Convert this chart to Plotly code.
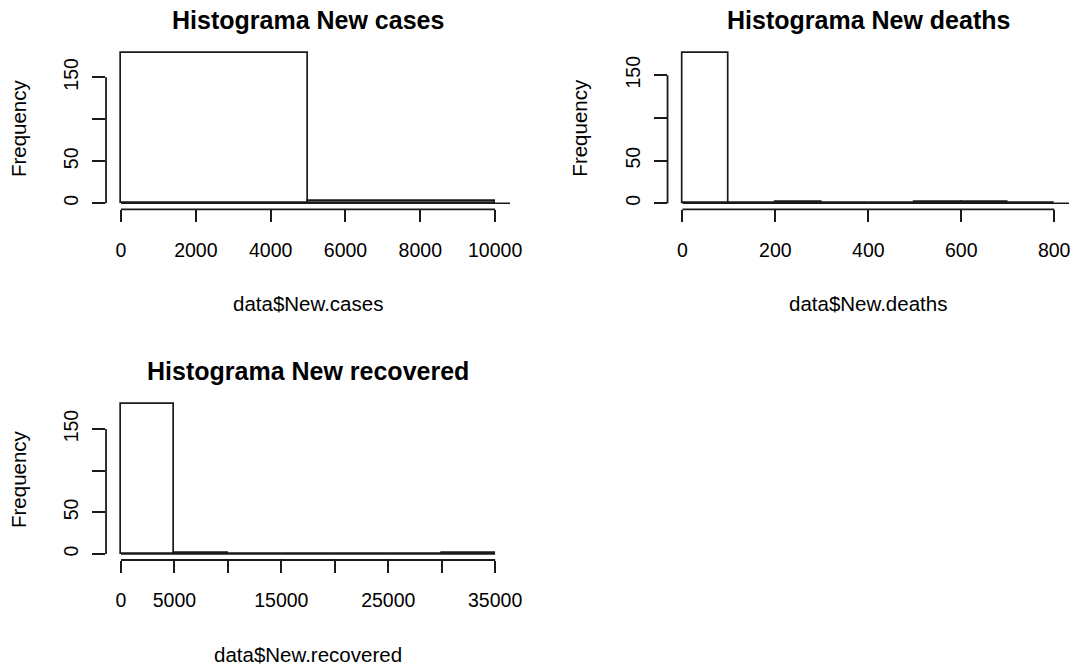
import plotly.graph_objects as go

FONT = "Liberation Sans, Arial, Helvetica, sans-serif"
INK = "#1a1a1a"
W, H = 1086, 666

# Histogram bin edges and frequencies for each variable
cases_breaks = [0, 5000, 10000]
cases_counts = [179, 3]
deaths_breaks = [0, 100, 200, 300, 400, 500, 600, 700, 800]
deaths_counts = [176, 0, 2, 0, 0, 2, 2, 0]
recovered_breaks = [0, 5000, 10000, 15000, 20000, 25000, 30000, 35000]
recovered_counts = [180, 1, 0, 0, 0, 0, 1]

titles = ["Histograma New cases", "Histograma New deaths", "Histograma New recovered"]
xlabels = ["data$New.cases", "data$New.deaths", "data$New.recovered"]
ylabel = "Frequency"

cases_ticks = [0, 2000, 4000, 6000, 8000, 10000]
cases_ticktext = ["0", "2000", "4000", "6000", "8000", "10000"]
deaths_ticks = [0, 200, 400, 600, 800]
deaths_ticktext = ["0", "200", "400", "600", "800"]
recovered_ticks = [0, 5000, 10000, 15000, 20000, 25000, 30000, 35000]
recovered_ticktext = ["0", "5000", "", "15000", "", "25000", "", "35000"]
freq_ticks = [0, 50, 100, 150]
freq_ticktext = ["0", "50", "", "150"]

panels = [
    (cases_breaks, cases_counts, cases_ticks, cases_ticktext, True),
    (deaths_breaks, deaths_counts, deaths_ticks, deaths_ticktext, True),
    (recovered_breaks, recovered_counts, recovered_ticks, recovered_ticktext, False),
]

# plot-region boxes in pixels: left, right, top, bottom
boxes = [(107.2, 515.8, 46.9, 209.3), (675.0, 1081.0, 46.9, 209.3), (107.2, 515.8, 398.0, 560.0)]

fig = go.Figure()
shapes, annotations = [], []

for i, ((breaks, counts, ticks, ticktext, extend), box) in enumerate(zip(panels, boxes)):
    n = "" if i == 0 else str(i + 1)
    xa, ya = "x" + n, "y" + n
    mids = [(a + b) / 2 for a, b in zip(breaks[:-1], breaks[1:])]
    widths = [b - a for a, b in zip(breaks[:-1], breaks[1:])]
    fig.add_trace(go.Bar(
        x=mids, y=counts, width=widths, xaxis=xa, yaxis=ya,
        marker=dict(color="white", line=dict(color=INK, width=1.7)),
        showlegend=False, hoverinfo="x+y",
    ))

    span = breaks[-1] - breaks[0]
    xr = [breaks[0] - 0.04 * span, breaks[-1] + 0.04 * span]
    m = max(counts)
    yr = [-0.04 * m, 1.04 * m]
    left, right, top, bottom = box

    fig.update_layout(**{
        "xaxis" + n: dict(
            domain=[left / W, right / W], range=xr, anchor=ya,
            showgrid=False, zeroline=False, showline=False,
            ticks="outside", ticklen=12, tickwidth=1.8, tickcolor=INK,
            tickvals=ticks, ticktext=ticktext,
            tickfont=dict(family=FONT, size=19.5, color="black"),
            ticklabelstandoff=11, fixedrange=True,
        ),
        "yaxis" + n: dict(
            domain=[1 - bottom / H, 1 - top / H], range=yr, anchor=xa,
            showgrid=False, zeroline=False, showline=False,
            ticks="outside", ticklen=13, tickwidth=1.8, tickcolor=INK,
            tickvals=freq_ticks, ticktext=freq_ticktext, tickangle=-90,
            tickfont=dict(family=FONT, size=19.5, color="black"),
            ticklabelstandoff=6, fixedrange=True,
        ),
    })

    # axis lines spanning first to last tick
    shapes.append(dict(type="line", xref=xa, yref=ya + " domain",
                       x0=ticks[0], x1=ticks[-1], y0=0, y1=0,
                       line=dict(color=INK, width=1.8)))
    shapes.append(dict(type="line", xref=xa + " domain", yref=ya,
                       x0=0, x1=0, y0=freq_ticks[0], y1=freq_ticks[-1],
                       line=dict(color=INK, width=1.8)))
    # baseline under the bars
    shapes.append(dict(type="line", xref=xa, yref=ya,
                       x0=breaks[0], x1=(xr[1] if extend else breaks[-1]), y0=0, y1=0,
                       line=dict(color=INK, width=1.4)))

    annotations.append(dict(text="<b>" + titles[i] + "</b>", xref=xa + " domain", yref=ya + " domain",
                            x=0.5, y=1, yshift=27, showarrow=False, xanchor="center", yanchor="middle",
                            font=dict(family=FONT, size=25, color="black")))
    annotations.append(dict(text=xlabels[i], xref=xa + " domain", yref=ya + " domain",
                            x=0.5, y=0, yshift=-94, showarrow=False, xanchor="center", yanchor="middle",
                            font=dict(family=FONT, size=20.5, color="black")))
    annotations.append(dict(text=ylabel, xref=xa + " domain", yref=ya + " domain",
                            x=0, y=0.5, xshift=-88, textangle=-90, showarrow=False,
                            xanchor="center", yanchor="middle",
                            font=dict(family=FONT, size=20.5, color="black")))

fig.update_layout(
    width=W, height=H, autosize=False,
    margin=dict(l=0, r=0, t=0, b=0),
    paper_bgcolor="white", plot_bgcolor="white",
    bargap=0, shapes=shapes, annotations=annotations,
)

fig.write_html("out.html")
